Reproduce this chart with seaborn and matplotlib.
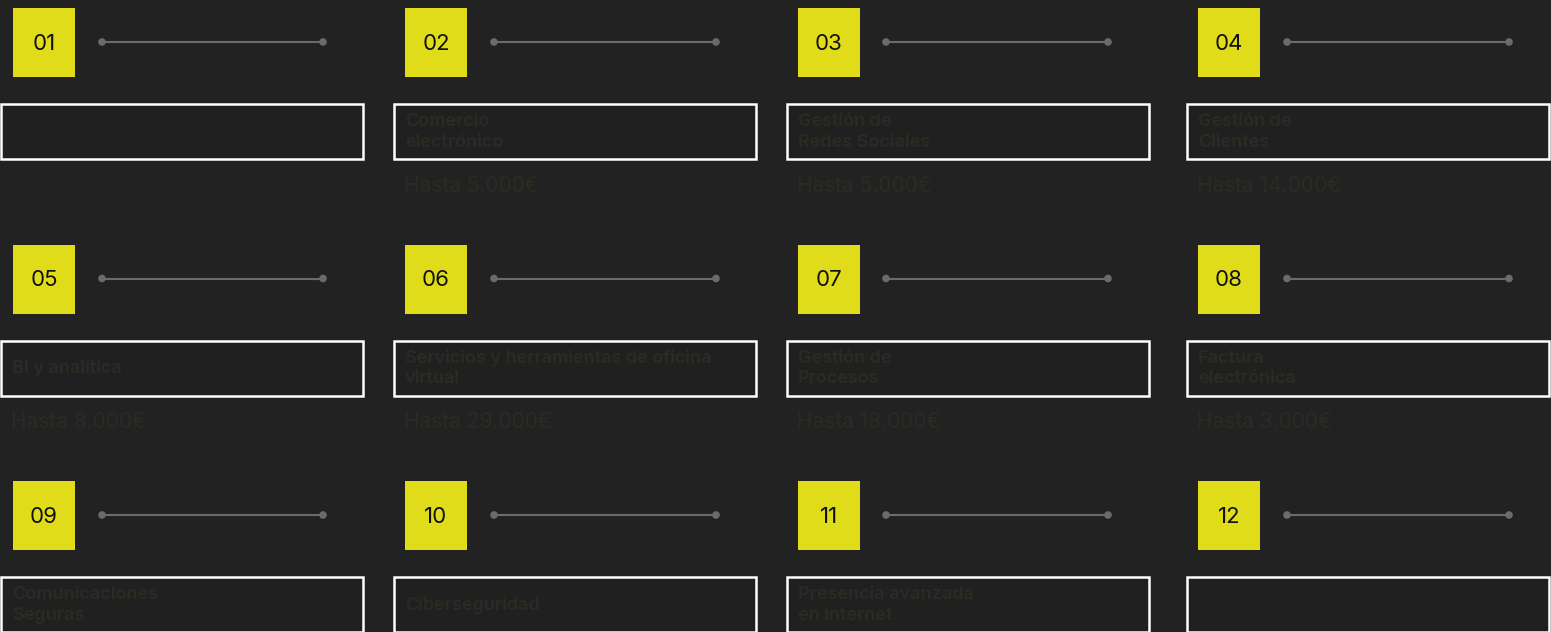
import matplotlib
matplotlib.use("Agg")
import matplotlib.pyplot as plt
import matplotlib.patches as patches
import seaborn as sns

# card data
numbers = ["01", "02", "03", "04", "05", "06", "07", "08", "09", "10", "11", "12"]
titles = [
    "",
    "Comercio\nelectrónico",
    "Gestión de\nRedes Sociales",
    "Gestión de\nClientes",
    "BI y analítica",
    "Servicios y herramientas de oficina\nvirtual",
    "Gestión de\nProcesos",
    "Factura\nelectrónica",
    "Comunicaciones\nSeguras",
    "Ciberseguridad",
    "Presencia avanzada\nen internet",
    "",
]
amounts = ["", "Hasta 5.000€", "Hasta 5.000€", "Hasta 14.000€",
           "Hasta 8.000€", "Hasta 29.000€", "Hasta 18.000€", "Hasta 3.000€",
           "", "", "", ""]

sns.set_theme(style="dark")
plt.rcParams['font.family'] = ['Inter', 'DejaVu Sans']

BG = "#222222"
YELLOW = "#e0dc1a"
FAINT = "#2b2b24"
LINE = "#6b6b6b"

W, H = 1551, 632
fig = plt.figure(figsize=(W / 100, H / 100), dpi=100, facecolor=BG)
ax = fig.add_axes([0, 0, 1, 1])
ax.set_facecolor(BG)
ax.set_xlim(0, W)
ax.set_ylim(H, 0)
ax.axis("off")

badge_x = [13, 405, 798, 1198]
box_x = [1, 394, 787, 1187]
line_x = [(102, 323), (494, 716), (886, 1108), (1287, 1509)]
row_y = [8, 244.5, 481]

dots_x, dots_y = [], []
for i, num in enumerate(numbers):
    r, c = divmod(i, 4)
    top = row_y[r]
    # yellow number badge
    ax.add_patch(patches.Rectangle((badge_x[c], top), 62, 69, facecolor=YELLOW, edgecolor="none"))
    ax.text(badge_x[c] + 31, top + 36, num, ha="center", va="center",
            fontsize=16, color="#111111")
    # connector line
    x0, x1 = line_x[c]
    ax.plot([x0, x1], [top + 34, top + 34], color=LINE, lw=1.5, zorder=2)
    dots_x += [x0, x1]
    dots_y += [top + 34, top + 34]
    # outlined box
    ax.add_patch(patches.Rectangle((box_x[c], top + 96), 362, 55, facecolor="#202020",
                                   edgecolor="white", lw=1.8))
    if titles[i]:
        ax.text(box_x[c] + 11, top + 124, titles[i], ha="left", va="center",
                fontsize=13, fontweight="semibold", color=FAINT, linespacing=1.25)
    if amounts[i]:
        ax.text(box_x[c] + 10, top + 178, amounts[i], ha="left", va="center",
                fontsize=15, color=FAINT)

sns.scatterplot(x=dots_x, y=dots_y, ax=ax, color=LINE, s=30, edgecolor="none", zorder=3)
ax.set_xlim(0, W)
ax.set_ylim(H, 0)

fig.savefig("out.png", dpi=100, facecolor=BG)
